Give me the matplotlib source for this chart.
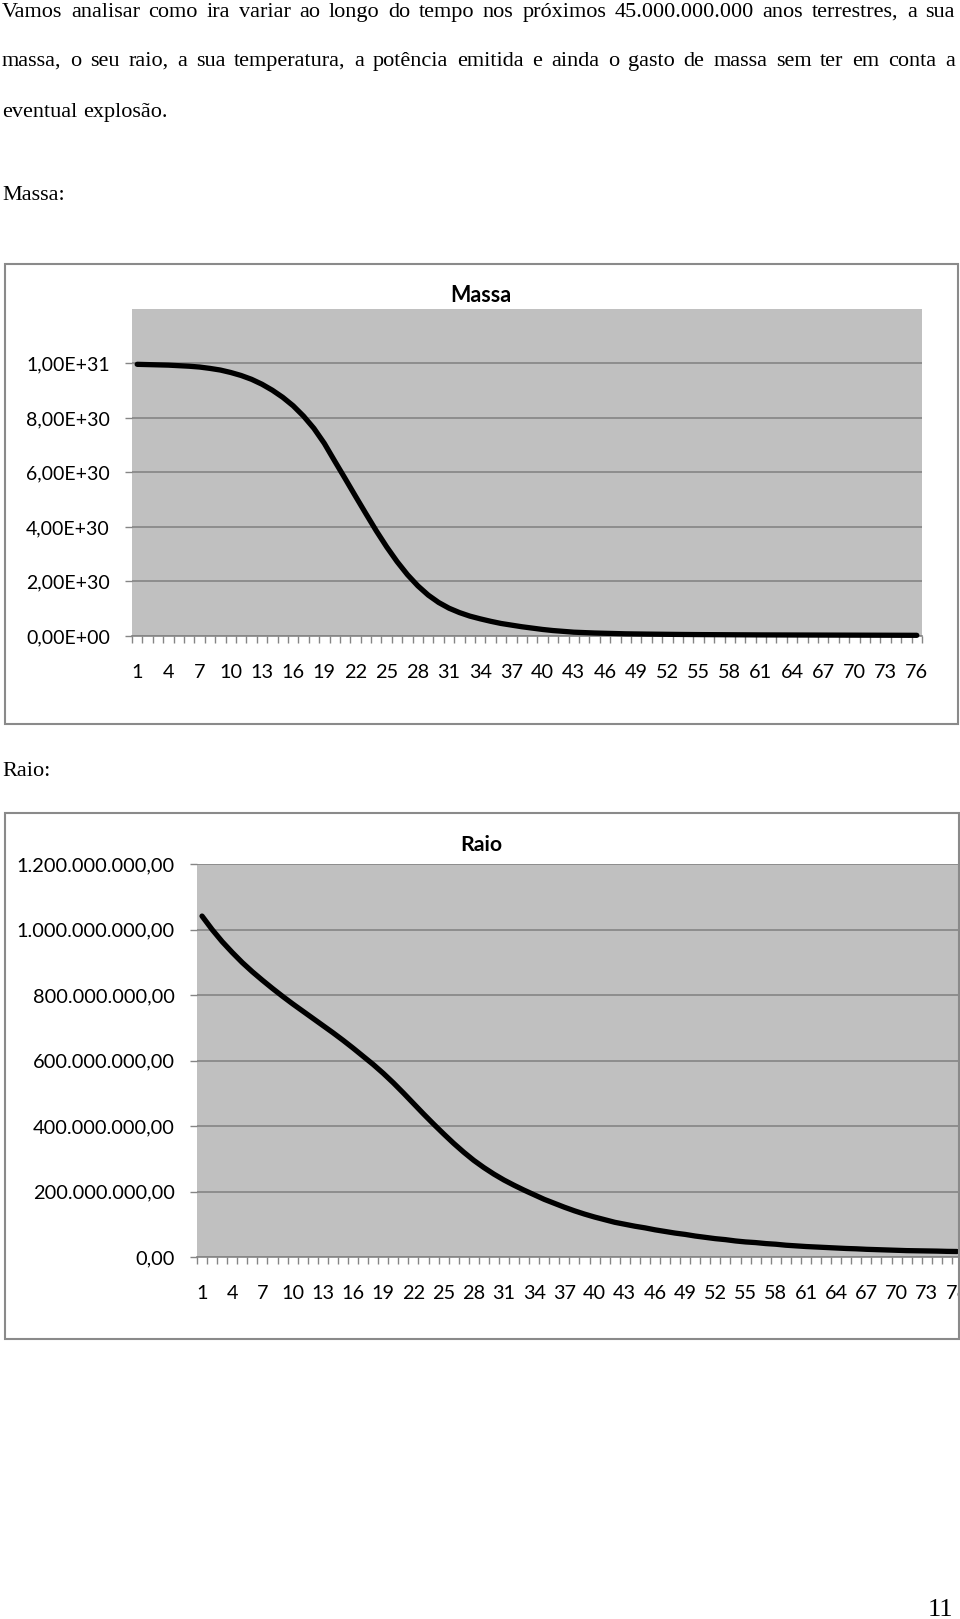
import matplotlib
matplotlib.use("Agg")
import matplotlib.pyplot as plt
from matplotlib.patches import Rectangle
from matplotlib.ticker import FixedLocator, FuncFormatter

W, H, DPI = 960, 1619, 100

# ---------------- data ----------------
body_lines = [
    "Vamos analisar como ira variar ao longo do tempo nos próximos 45.000.000.000 anos terrestres, a sua",
    "massa, o seu raio, a sua temperatura, a potência emitida e ainda o gasto de massa sem ter em conta a",
    "eventual explosão.",
]
label_massa = "Massa:"
label_raio = "Raio:"
page_number = "11"
massa_title = "Massa"
raio_title = "Raio"

categorias = list(range(1, 77))
xtick_labels = [str(c) for c in range(1, 77, 3)]

# mass, units of 1e30
massa_e30 = [9.97, 9.96, 9.95, 9.94, 9.92, 9.90, 9.87, 9.82, 9.76, 9.67,
             9.56, 9.42, 9.24, 9.02, 8.76, 8.45, 8.07, 7.62, 7.07, 6.42,
             5.78, 5.13, 4.49, 3.86, 3.27, 2.73, 2.25, 1.84, 1.50, 1.23,
             1.02, 0.86, 0.73, 0.63, 0.54, 0.46, 0.40, 0.34, 0.29, 0.24,
             0.20, 0.17, 0.14, 0.125, 0.11, 0.10, 0.09, 0.08, 0.075, 0.07,
             0.066, 0.062, 0.058, 0.055, 0.052, 0.050, 0.048, 0.046, 0.044, 0.042,
             0.040, 0.039, 0.038, 0.037, 0.036, 0.035, 0.034, 0.033, 0.032, 0.031,
             0.030, 0.029, 0.028, 0.027, 0.026, 0.025]

# radius, units of 1e8
raio_e8 = [10.41, 10.00, 9.63, 9.30, 8.99, 8.71, 8.45, 8.20, 7.96, 7.73,
           7.51, 7.29, 7.07, 6.85, 6.62, 6.38, 6.13, 5.88, 5.61, 5.32,
           5.01, 4.69, 4.37, 4.06, 3.76, 3.47, 3.20, 2.95, 2.73, 2.53,
           2.35, 2.19, 2.04, 1.90, 1.76, 1.64, 1.52, 1.41, 1.31, 1.22,
           1.14, 1.06, 1.00, 0.94, 0.89, 0.83, 0.78, 0.73, 0.69, 0.64,
           0.60, 0.56, 0.53, 0.49, 0.46, 0.44, 0.41, 0.39, 0.36, 0.34,
           0.32, 0.305, 0.29, 0.275, 0.26, 0.25, 0.235, 0.225, 0.215, 0.205,
           0.195, 0.19, 0.185, 0.18, 0.172, 0.168]

massa_yticks = [0, 2e30, 4e30, 6e30, 8e30, 1e31]
raio_yticks = [0, 2e8, 4e8, 6e8, 8e8, 1e9, 1.2e9]

# ---------------- figure ----------------
fig = plt.figure(figsize=(W / DPI, H / DPI), dpi=DPI)
fig.patch.set_facecolor("white")

SERIF = ["Liberation Serif", "DejaVu Serif"]
SANS = ["Lato", "DejaVu Sans"]
GRID = "#858585"
BG = "#C0C0C0"


def fx(px):
    return px / W


def fy(py):
    return 1 - py / H


def px_axes(l, t, r, b):
    return fig.add_axes([l / W, 1 - b / H, (r - l) / W, (b - t) / H])


renderer = fig.canvas.get_renderer()


def space_width(size):
    sp = fig.text(0, 0, "a a", fontsize=size, family=SERIF)
    sa = fig.text(0, 0, "aa", fontsize=size, family=SERIF)
    g = sp.get_window_extent(renderer).width - sa.get_window_extent(renderer).width
    sp.remove()
    sa.remove()
    return g


def put_line(text, baseline, x0, x1, size, justify):
    words = text.split(" ")
    objs = [fig.text(fx(x0), fy(baseline), w, fontsize=size, family=SERIF,
                     ha="left", va="baseline") for w in words]
    widths = [o.get_window_extent(renderer).width for o in objs]
    gap = space_width(size)
    if justify and len(words) > 1:
        gap = max(1.0, (x1 - x0 - sum(widths)) / (len(words) - 1))
    x = x0
    for o, w in zip(objs, widths):
        o.set_x(fx(x))
        x += w + gap


BODY_SIZE = 16
put_line(body_lines[0], 17, 2, 955, BODY_SIZE, True)
put_line(body_lines[1], 66, 2, 955, BODY_SIZE, True)
put_line(body_lines[2], 117, 2, 955, BODY_SIZE, False)
fig.text(fx(2), fy(200), label_massa, fontsize=BODY_SIZE, family=SERIF, ha="left", va="baseline")
fig.text(fx(2), fy(776), label_raio, fontsize=BODY_SIZE, family=SERIF, ha="left", va="baseline")
fig.text(fx(940), fy(1616), page_number, fontsize=19, family=SERIF, ha="center", va="baseline")

# chart frames
fig.patches.append(Rectangle((fx(5), fy(724)), (958 - 5) / W, (724 - 264) / H,
                             transform=fig.transFigure, fill=False,
                             edgecolor="#8A8A8A", linewidth=1.5, zorder=0))
fig.patches.append(Rectangle((fx(5), fy(1339)), (959 - 5) / W, (1339 - 813) / H,
                             transform=fig.transFigure, fill=False,
                             edgecolor="#8A8A8A", linewidth=1.5, zorder=0))


def style_axes(ax, yticks, yfmt, ylab_size, ylim_top):
    ax.set_facecolor(BG)
    ax.set_xlim(0.5, 76.5)
    ax.set_ylim(0, ylim_top)
    for s in ("top", "right", "left"):
        ax.spines[s].set_visible(False)
    ax.spines["bottom"].set_color(GRID)
    ax.spines["bottom"].set_linewidth(1.2)
    ax.set_yticks(yticks)
    ax.yaxis.set_major_formatter(FuncFormatter(yfmt))
    ax.tick_params(axis="y", length=5, width=1.0, color=GRID, pad=11,
                   labelsize=ylab_size, labelcolor="black")
    for lab in ax.get_yticklabels():
        lab.set_family(SANS)
    ax.yaxis.grid(True, color=GRID, linewidth=1.2)
    ax.set_axisbelow(True)
    ax.xaxis.set_major_locator(FixedLocator(list(range(1, 77, 3))))
    ax.set_xticklabels(xtick_labels)
    ax.xaxis.set_minor_locator(FixedLocator([c + 0.5 for c in range(0, 77)]))
    ax.tick_params(axis="x", which="major", length=0, pad=20.5, labelsize=14.3,
                   labelcolor="black")
    ax.tick_params(axis="x", which="minor", length=5, width=1.0, color=GRID,
                   direction="out")
    for lab in ax.get_xticklabels():
        lab.set_family(SANS)


def fmt_massa(v, pos):
    return f"{v:.2E}".replace(".", ",")


def fmt_raio(v, pos):
    s = f"{v:,.2f}"
    return s.replace(",", "X").replace(".", ",").replace("X", ".")


# Massa chart
ax1 = px_axes(132, 309, 922, 636)
style_axes(ax1, massa_yticks, fmt_massa, 14.0, 1.2e31)
ax1.plot(categorias, [v * 1e30 for v in massa_e30], color="black",
         linewidth=3.8, solid_capstyle="round", solid_joinstyle="round",
         clip_on=False, zorder=3)
fig.text(fx(481), fy(295), massa_title, fontsize=15.5, fontweight="bold",
         family=SANS, ha="center", va="center")

# Raio chart (extends past the page edge, as in the original)
ax2 = px_axes(197, 864, 962, 1257)
style_axes(ax2, raio_yticks, fmt_raio, 14.4, 1.2e9)
ax2.plot(categorias, [v * 1e8 for v in raio_e8], color="black",
         linewidth=3.8, solid_capstyle="round", solid_joinstyle="round", zorder=3)
fig.text(fx(481), fy(845), raio_title, fontsize=15.3, fontweight="bold",
         family=SANS, ha="center", va="center")

fig.savefig("out.png", dpi=DPI, facecolor="white")
